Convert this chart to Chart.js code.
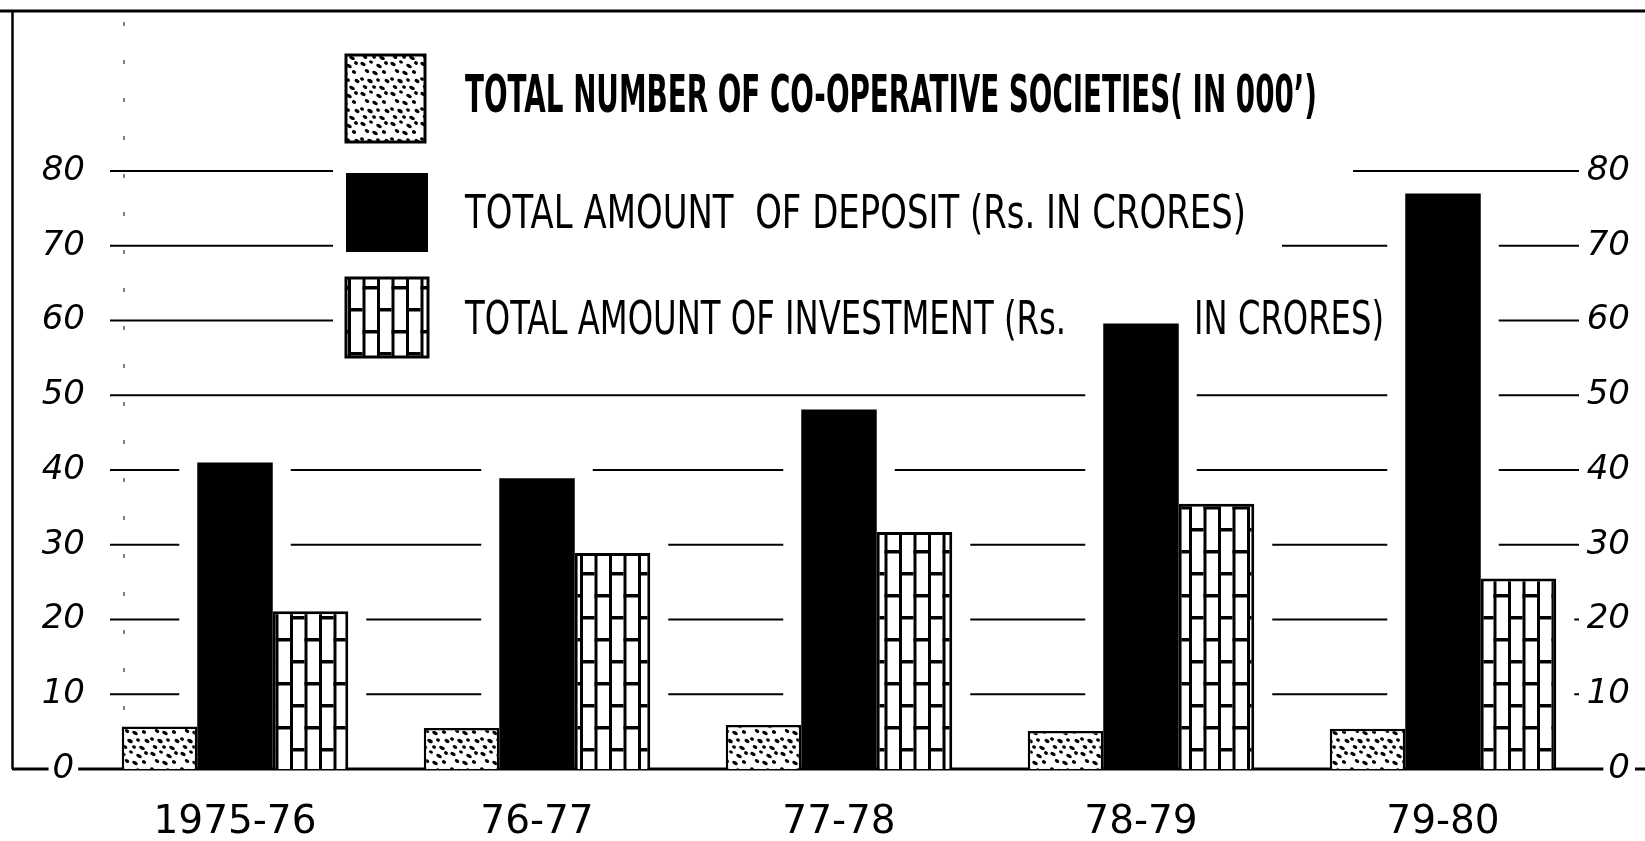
<!DOCTYPE html>
<html><head><meta charset="utf-8">
<script src="https://cdn.jsdelivr.net/npm/chart.js@4.4.1/dist/chart.umd.min.js"></script>
<style>html,body{margin:0;padding:0;background:#fff;overflow:hidden}canvas{display:block}</style>
</head><body>
<canvas id="c" width="1645" height="841"></canvas>
<script>
// ---- data ----
const categories = ['1975-76', '76-77', '77-78', '78-79', '79-80'];
const societies = [5.7, 5.5, 5.9, 5.1, 5.4];
const deposits = [41.0, 38.9, 48.1, 59.6, 77.0];
const investments = [21.1, 28.9, 31.7, 35.5, 25.5];
const yTicks = [0, 10, 20, 30, 40, 50, 60, 70, 80];
const legendLabels = [
  'TOTAL NUMBER OF CO-OPERATIVE SOCIETIES( IN 000\u2019)',
  'TOTAL AMOUNT  OF DEPOSIT (Rs. IN CRORES)',
  'TOTAL AMOUNT OF INVESTMENT (Rs. IN CRORES)'
];

const canvas = document.getElementById('c');
const mainCtx = canvas.getContext('2d');

function makeStipple() {
  const c = document.createElement('canvas'); c.width = 30; c.height = 30;
  const g = c.getContext('2d');
  g.fillStyle = '#fff'; g.fillRect(0, 0, 30, 30);
  g.fillStyle = '#000';
  const dots = [[3,4,2.8,1.8],[11,2,2.0,1.5],[19,6,3.0,1.8],[26,3,2.0,1.8],[7,11,2.4,1.6],
    [15,13,3.0,1.8],[24,12,2.2,1.8],[2,19,2.0,1.6],[10,21,3.0,1.9],[18,20,2.0,1.6],
    [27,21,2.6,1.8],[5,27,2.5,1.6],[14,27,2.0,1.7],[22,28,3.0,1.7]];
  dots.forEach(([x, y, rx, ry]) => { g.beginPath(); g.ellipse(x, y, rx, ry, 0.5, 0, Math.PI * 2); g.fill(); });
  return mainCtx.createPattern(c, 'repeat');
}
function makeBrick() {
  const W = 29, H = 44;
  const c = document.createElement('canvas'); c.width = W; c.height = H;
  const g = c.getContext('2d');
  g.fillStyle = '#fff'; g.fillRect(0, 0, W, H);
  g.fillStyle = '#000';
  g.fillRect(0, 0, 3, H); g.fillRect(14.5, 0, 3, H);
  g.fillRect(0, 0, 14.5, 3.5); g.fillRect(14.5, 22, 14.5, 3.5);
  return mainCtx.createPattern(c, 'repeat');
}
const stipple = makeStipple();
const brick = makeBrick();

function fitText(ctx, text, xLeft, yCenter, targetW, size, weight) {
  ctx.save();
  ctx.font = weight + ' ' + size + 'px "DejaVu Sans"';
  ctx.textBaseline = 'middle'; ctx.textAlign = 'left'; ctx.fillStyle = '#000';
  const w = ctx.measureText(text).width;
  ctx.translate(xLeft, yCenter); ctx.scale(targetW / w, 1);
  ctx.fillText(text, 0, 0);
  ctx.restore();
}

const TICK_SIZE = 34;
const RIGHT_PAD = 36;
const decor = {
  id: 'decor',
  beforeDatasetsDraw(chart) {
    const ctx = chart.ctx;
    const ys = chart.scales.y;
    const base = ys.getPixelForValue(0);
    ctx.save();
    ctx.strokeStyle = '#000'; ctx.fillStyle = '#000';
    // frame
    ctx.lineWidth = 3;
    ctx.beginPath(); ctx.moveTo(0, 11); ctx.lineTo(1645, 11); ctx.stroke();
    ctx.lineWidth = 2.5;
    ctx.beginPath(); ctx.moveTo(12.5, 10); ctx.lineTo(12.5, base); ctx.stroke();
    // faint dashed guide
    ctx.save(); ctx.strokeStyle = '#555'; ctx.lineWidth = 1.5; ctx.setLineDash([4, 34]);
    ctx.beginPath(); ctx.moveTo(124, 22); ctx.lineTo(124, base); ctx.stroke(); ctx.restore();

    // bars geometry
    const bars = [];
    chart.data.datasets.forEach((ds, di) => {
      chart.getDatasetMeta(di).data.forEach((el, i) => {
        bars.push({ l: el.x - el.width / 2, r: el.x + el.width / 2, v: ds.data[i] });
      });
    });
    const xStart = 110, xEnd = 1579, margin = 18;
    ctx.lineWidth = 2.2;
    yTicks.forEach(v => {
      if (v === 0) return;
      const y = ys.getPixelForValue(v);
      const gaps = bars.filter(b => b.v >= v - 1.8).map(b => [b.l - margin, b.r + margin]).sort((a, b) => a[0] - b[0]);
      let cur = xStart;
      ctx.beginPath();
      gaps.forEach(([a, b]) => {
        if (a > cur) { ctx.moveTo(cur, y); ctx.lineTo(Math.min(a, xEnd), y); }
        cur = Math.max(cur, b);
      });
      if (cur < xEnd) { ctx.moveTo(cur, y); ctx.lineTo(xEnd, y); }
      ctx.stroke();
    });
    // baseline, broken around the 0 labels
    ctx.font = 'italic ' + TICK_SIZE + 'px "DejaVu Sans"';
    const w0 = ctx.measureText('0').width;
    const w80 = ctx.measureText('80').width;
    const lc = ys.right + 1 - w80 / 2;
    const rRight = chart.scales.y2.left + RIGHT_PAD;
    ctx.lineWidth = 3;
    ctx.beginPath();
    ctx.moveTo(12, base); ctx.lineTo(lc - w0 / 2 - 4, base);
    ctx.moveTo(lc + w0 / 2 + 4, base); ctx.lineTo(rRight - w0 - 5, base);
    ctx.moveTo(rRight + 5, base); ctx.lineTo(1645, base);
    ctx.stroke();

    // legend background
    ctx.fillStyle = '#fff';
    ctx.fillRect(333, 47, 1020, 131);
    ctx.fillRect(333, 178, 949, 89);
    ctx.fillRect(333, 267, 1059, 95);
    // swatches
    ctx.lineWidth = 3; ctx.strokeStyle = '#000';
    ctx.fillStyle = stipple; ctx.fillRect(346, 55, 79, 87); ctx.strokeRect(346, 55, 79, 87);
    ctx.fillStyle = '#000'; ctx.fillRect(346, 173, 82, 79);
    ctx.fillStyle = brick; ctx.fillRect(346, 278, 82, 79); ctx.strokeRect(346, 278, 82, 79);
    // texts
    fitText(ctx, legendLabels[0], 465, 98, 852, 52, 'bold');
    fitText(ctx, legendLabels[1], 465, 216, 781, 46, 'normal');
    const cut = legendLabels[2].indexOf(' IN CRORES');
    fitText(ctx, legendLabels[2].slice(0, cut), 465, 322, 601, 46, 'normal');
    fitText(ctx, legendLabels[2].slice(cut + 1), 1194, 322, 190, 46, 'normal');
    ctx.restore();
  }
};

const tickFont = { family: 'DejaVu Sans', size: TICK_SIZE, style: 'italic' };
const setTicks = s => { s.ticks = yTicks.map(v => ({ value: v })); };

new Chart(canvas, {
  type: 'bar',
  data: {
    labels: categories,
    datasets: [
      { label: legendLabels[0], data: societies, backgroundColor: stipple, borderColor: '#000', borderWidth: 2.5 },
      { label: legendLabels[1], data: deposits, backgroundColor: '#000', borderWidth: 0 },
      { label: legendLabels[2], data: investments, backgroundColor: brick, borderColor: '#000', borderWidth: 3 }
    ]
  },
  options: {
    responsive: false, animation: false, devicePixelRatio: 1,
    layout: { padding: { top: 171, left: 0, right: 0, bottom: 0 } },
    datasets: { bar: { barPercentage: 1, categoryPercentage: 0.75 } },
    plugins: { legend: { display: false }, tooltip: { enabled: false } },
    scales: {
      x: {
        offset: true,
        grid: { display: false, drawTicks: false }, border: { display: false },
        ticks: { color: '#000', font: { family: 'DejaVu Sans', size: 39 }, padding: 30, maxRotation: 0 },
        afterFit(s) { s.height = 72; }
      },
      y: {
        position: 'left', min: 0, max: 80,
        grid: { display: false, drawTicks: false }, border: { display: false },
        ticks: { color: '#000', font: tickFont, crossAlign: 'center', padding: -1 },
        afterBuildTicks: setTicks,
        afterFit(s) { s.width = 84; }
      },
      y2: {
        position: 'right', min: 0, max: 80,
        grid: { display: false, drawTicks: false }, border: { display: false },
        ticks: { color: '#000', font: tickFont, mirror: true, crossAlign: 'near', padding: RIGHT_PAD },
        afterBuildTicks: setTicks,
        afterFit(s) { s.width = 51; }
      }
    }
  },
  plugins: [decor]
});
</script>
</body></html>
